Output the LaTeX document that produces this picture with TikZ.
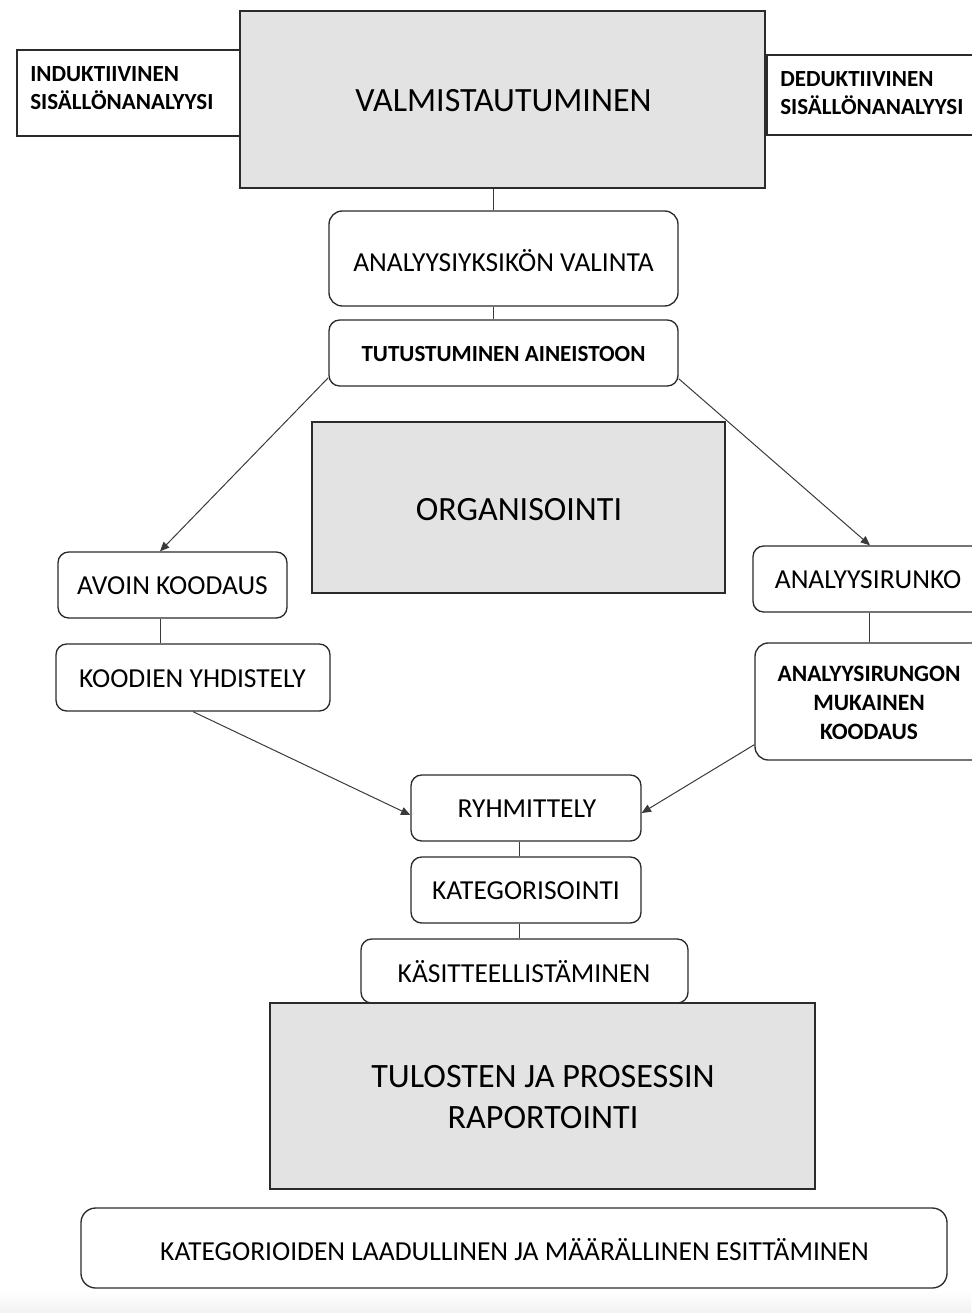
\documentclass[tikz,border=0pt]{standalone}
\usepackage{fontspec}
\setmainfont{Carlito}
\usetikzlibrary{fit,calc,arrows.meta}
\definecolor{boxgray}{HTML}{E3E3E3}
\definecolor{edge}{HTML}{2B2B2B}
\definecolor{conn}{HTML}{3A3A3A}
\tikzset{
  mainbox/.style={draw=edge, line width=1.5pt, fill=boxgray, inner sep=0pt},
  sidebox/.style={draw=edge, line width=0.9pt, fill=white, inner sep=0pt},
  rbox/.style={draw=edge, line width=1pt, fill=white, rounded corners=8pt, inner sep=0pt, align=center},
  plain/.style={inner sep=0pt, align=center},
  conline/.style={draw=conn, line width=0.75pt},
  conarrow/.style={draw=conn, line width=0.75pt, -{Triangle[length=7pt,width=6pt]}},
  fbig/.style={font=\fontsize{25.5}{31}\selectfont},
  fmid/.style={font=\fontsize{20.6}{22}\selectfont},
  fsmall/.style={font=\bfseries\fontsize{17.3}{22}\selectfont},
}
\begin{document}
\begin{tikzpicture}[x=0.75pt,y=-0.75pt]
\useasboundingbox (0,0) rectangle (971,1313);
\shade[top color=white, bottom color=black!5] (0,1290) rectangle (971,1313);

% top
\node[sidebox, fit={(17,50)(240,136)}] (ind) {};
\node[fsmall, anchor=west, align=left, inner sep=0pt] (indt) at (30,88) {INDUKTIIVINEN\\[-1pt]SISÄLLÖNANALYYSI};
\node[sidebox, fit={(767,55)(985,135)}] (ded) {};
\node[fsmall, anchor=west, align=left, inner sep=0pt] (dedt) at (780,93) {DEDUKTIIVINEN\\[-1pt]SISÄLLÖNANALYYSI};
\node[mainbox, fit={(240,11)(765,188)}] (valm) {};
\node[fbig, plain] (valmt) at (503.5,101) {VALMISTAUTUMINEN};

\node[rbox, rounded corners=10pt, fit={(329,211)(678,306)}] (ana) {};
\node[fmid, plain] (anat) at (503.5,261) {ANALYYSIYKSIKÖN VALINTA};
\node[rbox, fit={(329,320)(678,386)}] (tut) {};
\node[fsmall, plain] (tutt) at (503.5,354) {TUTUSTUMINEN AINEISTOON};

% middle
\node[mainbox, fit={(312,422)(725,593)}] (org) {};
\node[font=\fontsize{25.5}{28}\selectfont, plain] (orgt) at (519,510) {ORGANISOINTI};

\node[rbox, fit={(58,552)(287,618)}] (avo) {};
\node[fmid, plain] (avot) at (172.5,586) {AVOIN KOODAUS};
\node[rbox, fit={(56,644)(330,711)}] (koo) {};
\node[fmid, plain] (koot) at (192.5,679) {KOODIEN YHDISTELY};

\node[rbox, fit={(753,546)(985,612)}] (run) {};
\node[fmid, plain] (runt) at (868,580) {ANALYYSIRUNKO};
\node[rbox, rounded corners=10pt, fit={(755,643)(985,760)}] (muk) {};
\node[fsmall, plain, font=\bfseries\fontsize{17.6}{21.8}\selectfont] (mukt) at (869,703) {ANALYYSIRUNGON\\MUKAINEN\\KOODAUS};

% lower
\node[rbox, fit={(411,775)(641,841)}] (ryh) {};
\node[fmid, plain] (ryht) at (527,809) {RYHMITTELY};
\node[rbox, fit={(411,857)(641,923)}] (kat) {};
\node[fmid, plain] (katt) at (526,891) {KATEGORISOINTI};
\node[rbox, fit={(361,939)(688,1003)}] (kas) {};
\node[fmid, plain] (kast) at (524,972) {KÄSITTEELLISTÄMINEN};
\node[mainbox, fit={(270,1003)(815,1189)}] (tul) {};
\node[plain, font=\fontsize{25.6}{30.75}\selectfont] (tult) at (543,1097) {TULOSTEN JA PROSESSIN\\RAPORTOINTI};

\node[rbox, rounded corners=11pt, fit={(81,1208)(947,1288)}] (esi) {};
\node[fmid, plain] (esit) at (514.5,1250) {KATEGORIOIDEN LAADULLINEN JA MÄÄRÄLLINEN ESITTÄMINEN};

% connectors
\draw[conline] ($(valm.south)+(-9.5,0)$) -- ($(ana.north)+(-10.5,0)$);
\draw[conline] ($(ana.south)+(-10.5,0)$) -- ($(tut.north)+(-10.5,0)$);
\draw[conarrow] ($(tut.south west)+(0,-9)$) -- ($(avo.north)+(-12.5,0)$);
\draw[conarrow] ($(tut.south east)+(0,-8)$) -- ($(run.north)+(1,0)$);
\draw[conline] ($(avo.south)+(-12.5,0)$) -- ($(koo.north)+(-33,0)$);
\draw[conline] (run.south) -- (run.south |- muk.north);
\draw[conarrow] (koo.south) -- ($(ryh.west)+(0,7)$);
\draw[conarrow] ($(muk.south west)+(0,-16)$) -- ($(ryh.east)+(0,5)$);
\draw[conline] ($(ryh.south)+(-7,0)$) -- ($(kat.north)+(-7,0)$);
\draw[conline] ($(kat.south)+(-7,0)$) -- ($(kas.north)+(-5.5,0)$);
\end{tikzpicture}
\end{document}
